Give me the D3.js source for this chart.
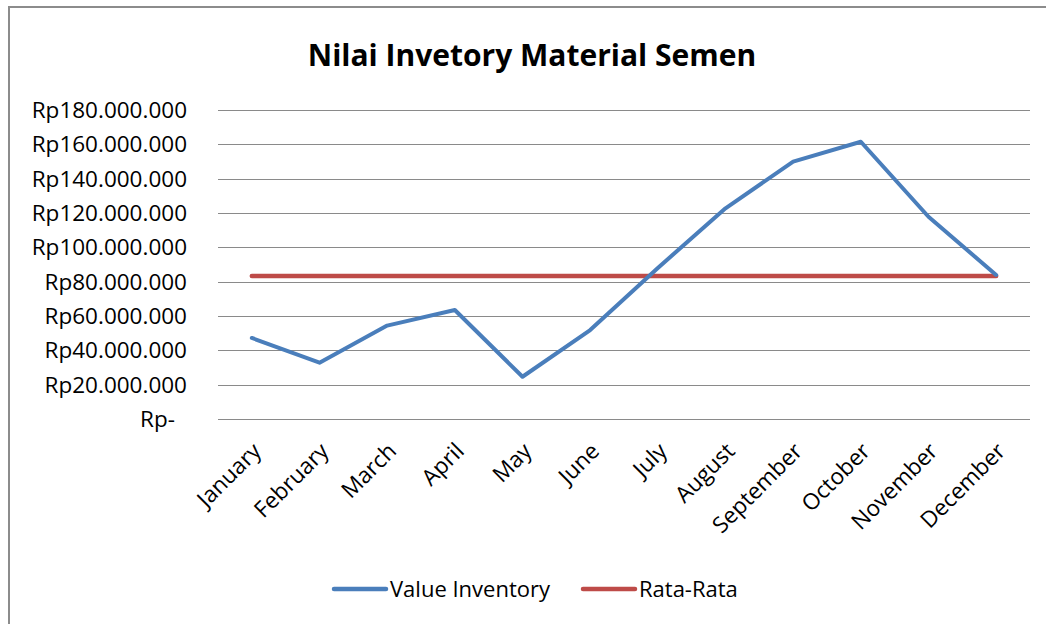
<!DOCTYPE html>
<meta charset="utf-8">
<title>Nilai Invetory Material Semen</title>
<style>
  body { margin: 0; background-color: #fff; }
  text { font-family: "Open Sans", sans-serif; fill: #000; }
  .grid line { stroke: #8a8a8a; stroke-width: 1px; }
</style>
<body>
<script src="https://d3js.org/d3.v7.min.js"></script>
<script>

// data
const months = ["January", "February", "March", "April", "May", "June",
  "July", "August", "September", "October", "November", "December"];
const valueInventory = [47200000, 32800000, 54400000, 63500000, 24600000, 51800000,
  88000000, 122700000, 149900000, 161500000, 117800000, 83900000];
const rataRata = 83300000;
const yTicks = [0, 20000000, 40000000, 60000000, 80000000, 100000000,
  120000000, 140000000, 160000000, 180000000];
const seriesNames = ["Value Inventory", "Rata-Rata"];

var width = 1046,
  height = 624,
  blue = "#4a7ebb",
  red = "#be4b48";

var svg = d3.select("body").append("svg")
    .attr("width", width)
    .attr("height", height);

// chart frame (left + top edges are visible in the crop)
svg.append("path")
    .attr("d", "M9," + height + "V7H" + width)
    .style("fill", "none")
    .style("stroke", "#8c8c8c")
    .style("stroke-width", 2);

var x = d3.scalePoint()
    .domain(months)
    .range([218, 1030])
    .padding(0.5);

var y = d3.scaleLinear()
    .domain([0, 180000000])
    .range([419, 110]);

const rupiah = v => v == 0 ? "Rp-" : "Rp" + d3.format(",")(v).replace(/,/g, ".");

// gridlines
svg.append("g")
    .attr("class", "grid")
  .selectAll("line")
    .data(yTicks)
  .enter().append("line")
    .attr("x1", 218)
    .attr("x2", 1030)
    .attr("y1", d => Math.round(y(d)) + 0.5)
    .attr("y2", d => Math.round(y(d)) + 0.5);

// y labels
svg.append("g").selectAll("text")
    .data(yTicks)
  .enter().append("text")
    .attr("x", d => d == 0 ? 175 : 187)
    .attr("y", d => y(d))
    .attr("dy", "0.35em")
    .attr("text-anchor", "end")
    .style("font-size", "22.5px")
    .text(rupiah);

// month labels, rotated
svg.append("g").selectAll("text")
    .data(months)
  .enter().append("text")
    .attr("transform", d => "translate(" + (x(d) + 5) + ",447) rotate(-45)")
    .attr("dy", "0.35em")
    .attr("text-anchor", "end")
    .style("font-size", "22.5px")
    .text(d => d);

// average line
svg.append("line")
    .attr("x1", x(months[0]))
    .attr("x2", x(months[months.length - 1]))
    .attr("y1", y(rataRata))
    .attr("y2", y(rataRata))
    .style("stroke", red)
    .style("stroke-width", 4.5)
    .style("stroke-linecap", "round");

// value line
var line = d3.line()
    .x((d, i) => x(months[i]))
    .y(d => y(d));

svg.append("path")
    .datum(valueInventory)
    .attr("d", line)
    .style("fill", "none")
    .style("stroke", blue)
    .style("stroke-width", 4)
    .style("stroke-linejoin", "round")
    .style("stroke-linecap", "round");

// title
svg.append("text")
    .attr("x", 532)
    .attr("y", 66)
    .attr("text-anchor", "middle")
    .style("font-size", "30px")
    .style("font-weight", "bold")
    .text("Nilai Invetory Material Semen");

// legend
var legend = svg.append("g").selectAll("g")
    .data([{ name: seriesNames[0], color: blue, x: 334 }, { name: seriesNames[1], color: red, x: 583 }])
  .enter().append("g")
    .attr("transform", d => "translate(" + d.x + ",589)");

legend.append("line")
    .attr("x2", 52)
    .style("stroke", d => d.color)
    .style("stroke-width", 4.5)
    .style("stroke-linecap", "round");

legend.append("text")
    .attr("x", 56)
    .attr("dy", "0.35em")
    .style("font-size", "22px")
    .text(d => d.name);

</script>
